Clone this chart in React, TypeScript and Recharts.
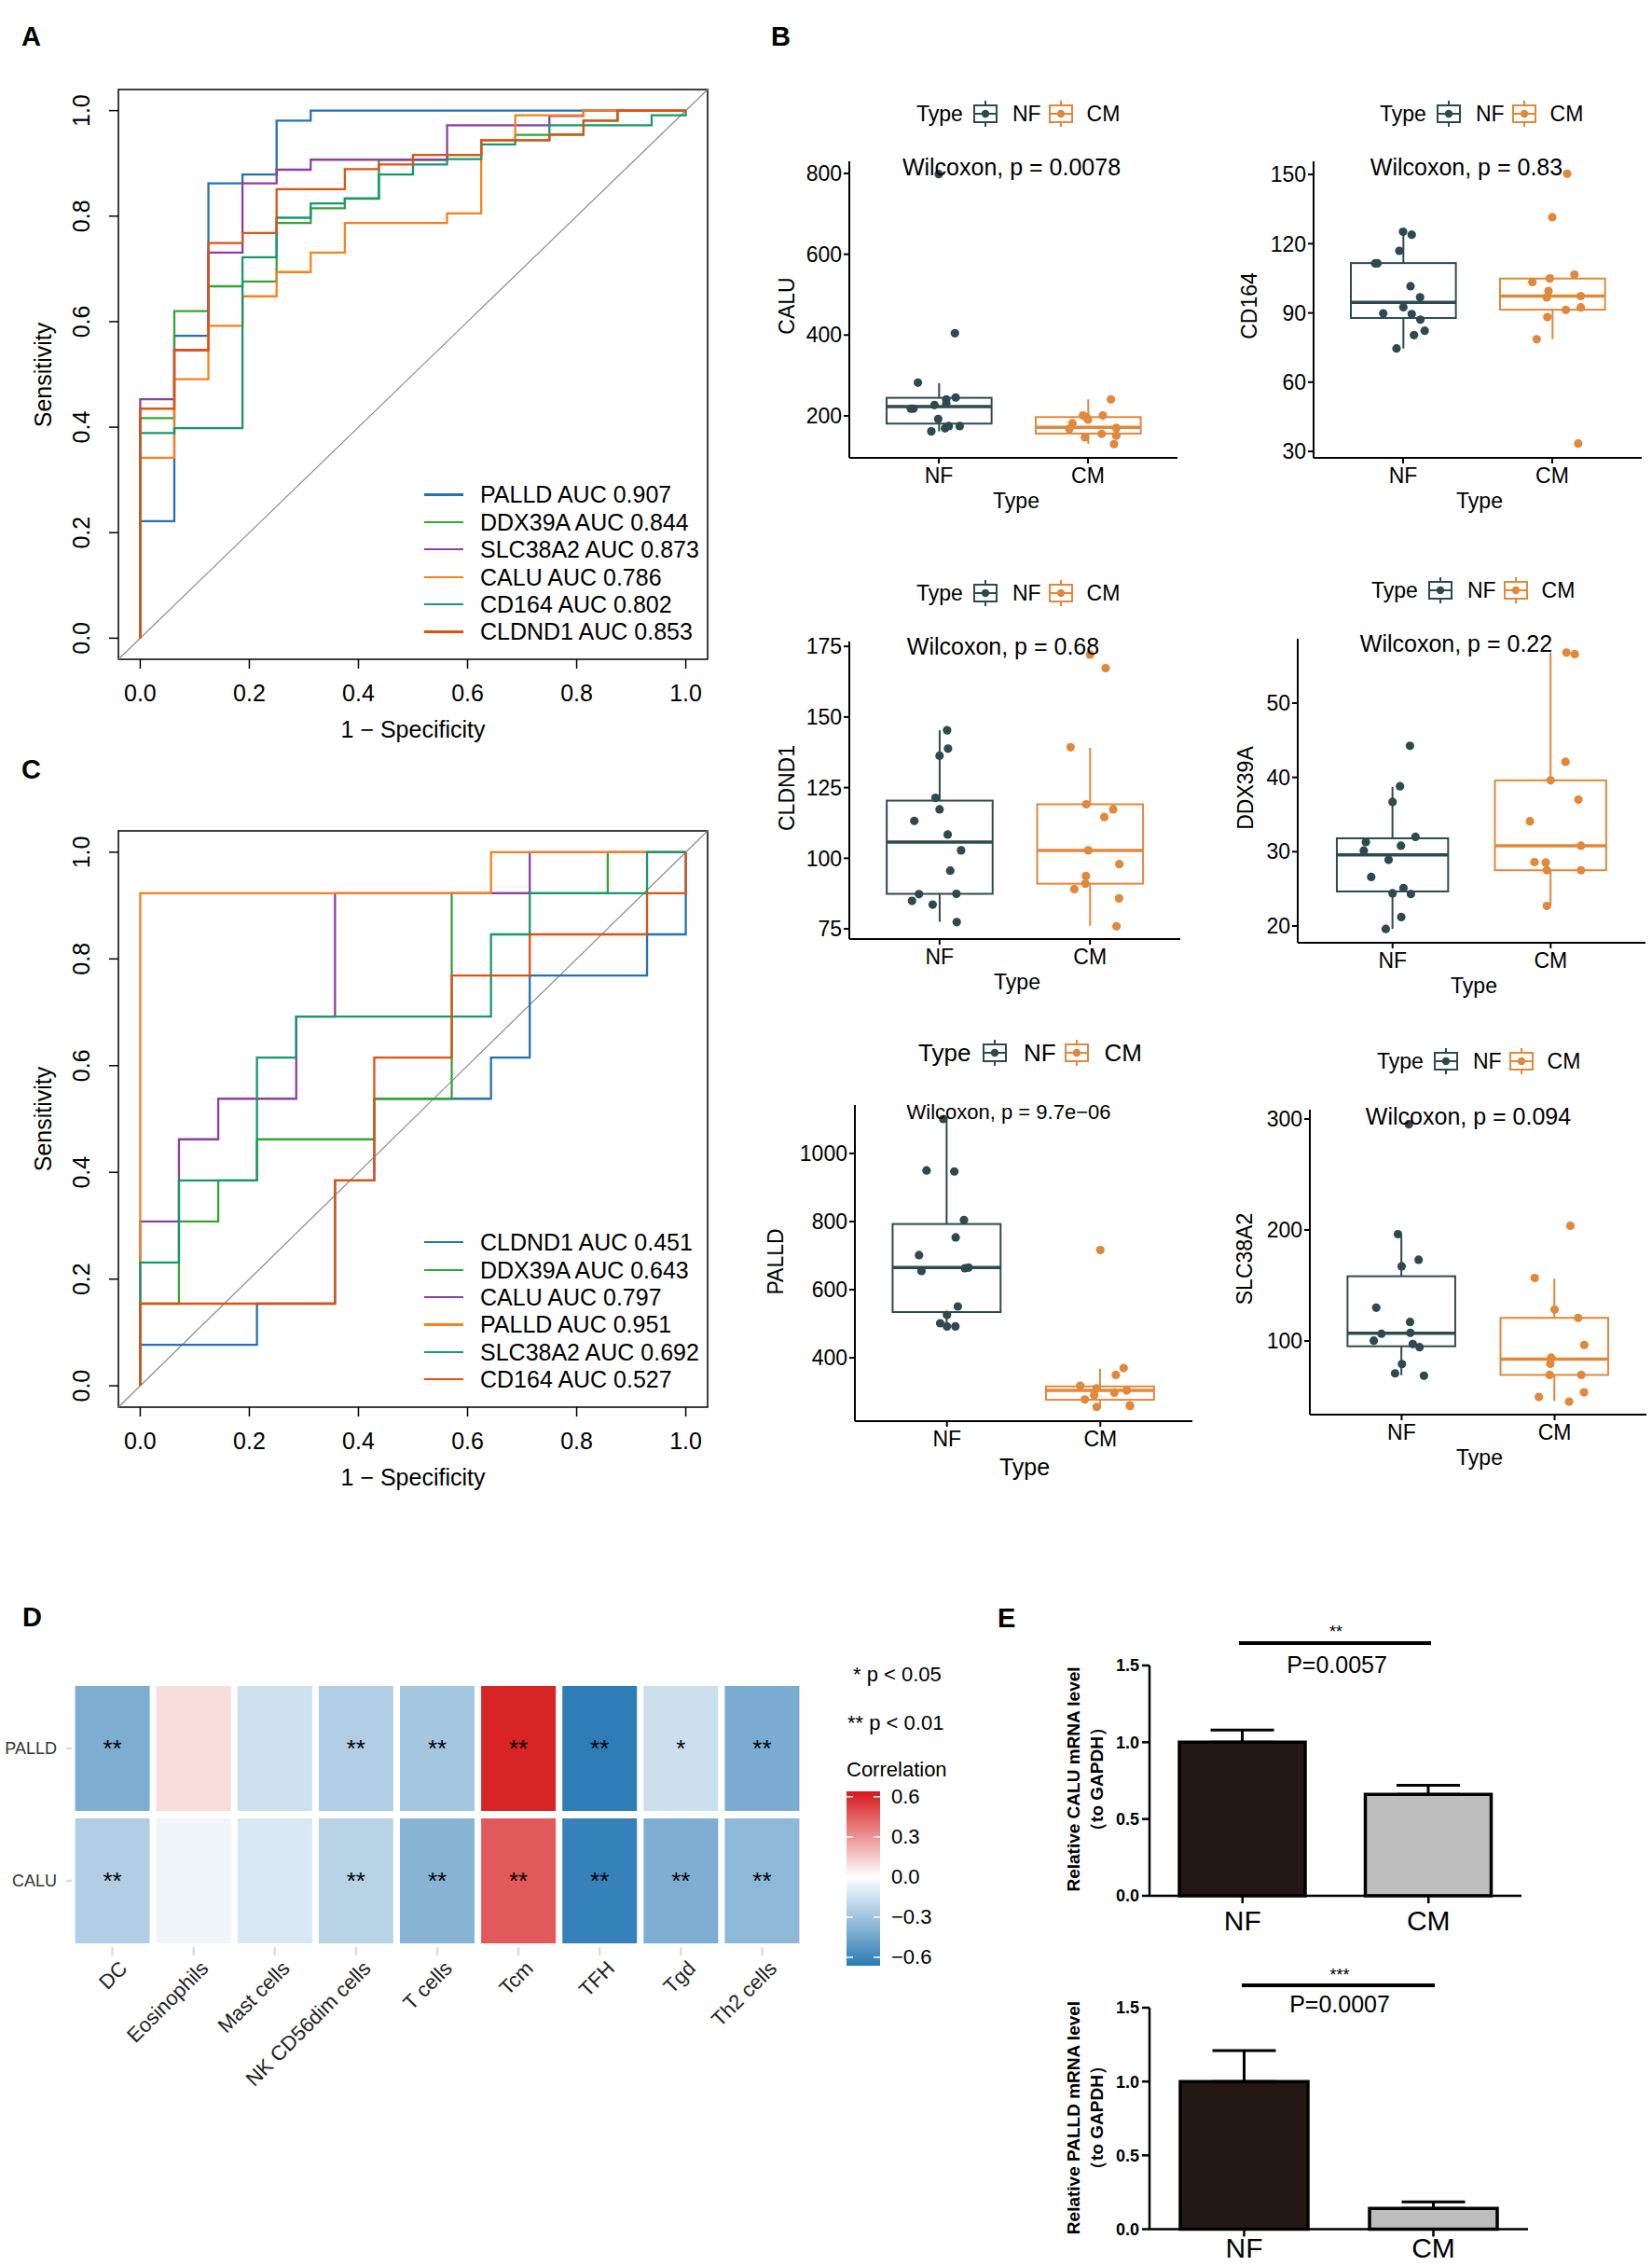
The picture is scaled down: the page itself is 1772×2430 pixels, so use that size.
import React from 'react';
import {
  LineChart, Line, XAxis, YAxis, ReferenceLine, ReferenceArea,
  ComposedChart, Bar, Scatter, ScatterChart, BarChart, ErrorBar, Cell,
} from 'recharts';

const FONT = 'Arial, "Liberation Sans", Helvetica, sans-serif';

// ---------------- Panel A : ROC (training) ----------------
const ROC_A_PALLD = [[0, 0], [0, 0.222], [0.0625, 0.573], [0.125, 0.862], [0.1875, 0.879], [0.25, 0.981], [0.3125, 1], [1, 1]];
const ROC_A_DDX39A = [[0, 0], [0, 0.417], [0.0625, 0.62], [0.125, 0.667], [0.1875, 0.676], [0.25, 0.787], [0.3125, 0.815], [0.375, 0.833], [0.4375, 0.907], [0.5625, 0.916], [0.625, 0.944], [0.6875, 0.954], [0.8125, 0.981], [0.875, 1], [1, 1]];
const ROC_A_SLC38A2 = [[0, 0], [0, 0.453], [0.0625, 0.546], [0.125, 0.731], [0.1875, 0.862], [0.25, 0.888], [0.3125, 0.907], [0.5625, 0.972], [0.75, 0.99], [0.8125, 1], [1, 1]];
const ROC_A_CALU = [[0, 0], [0, 0.342], [0.0625, 0.491], [0.125, 0.592], [0.1875, 0.648], [0.25, 0.694], [0.3125, 0.731], [0.375, 0.787], [0.5625, 0.805], [0.625, 0.944], [0.6875, 0.991], [0.8125, 1], [1, 1]];
const ROC_A_CD164 = [[0, 0], [0, 0.389], [0.0625, 0.398], [0.1875, 0.722], [0.25, 0.797], [0.3125, 0.824], [0.375, 0.834], [0.4375, 0.879], [0.5, 0.898], [0.5625, 0.908], [0.625, 0.936], [0.6875, 0.944], [0.75, 0.972], [0.9375, 0.991], [1, 1]];
const ROC_A_CLDND1 = [[0, 0], [0, 0.435], [0.0625, 0.546], [0.125, 0.749], [0.1875, 0.768], [0.25, 0.851], [0.375, 0.889], [0.4375, 0.898], [0.5, 0.916], [0.625, 0.944], [0.75, 0.955], [0.8125, 0.981], [0.875, 1], [1, 1]];
const ROC_A_NAMES = ['PALLD', 'DDX39A', 'SLC38A2', 'CALU', 'CD164', 'CLDND1'];
const ROC_A_AUC = ['0.907', '0.844', '0.873', '0.786', '0.802', '0.853'];

// ---------------- Panel C : ROC (validation) ----------------
const ROC_C_CLDND1 = [[0, 0], [0, 0.077], [0.214, 0.154], [0.357, 0.385], [0.429, 0.538], [0.643, 0.615], [0.714, 0.769], [0.929, 0.846], [1, 0.923], [1, 1]];
const ROC_C_DDX39A = [[0, 0], [0, 0.154], [0.071, 0.308], [0.143, 0.385], [0.214, 0.462], [0.429, 0.538], [0.571, 0.923], [0.857, 1], [1, 1]];
const ROC_C_CALU = [[0, 0], [0, 0.308], [0.071, 0.462], [0.143, 0.538], [0.286, 0.692], [0.357, 0.923], [0.714, 1], [1, 1]];
const ROC_C_PALLD = [[0, 0], [0, 0.923], [0.643, 1], [1, 1]];
const ROC_C_SLC38A2 = [[0, 0], [0, 0.231], [0.071, 0.385], [0.214, 0.615], [0.286, 0.692], [0.643, 0.846], [0.714, 0.923], [0.929, 1], [1, 1]];
const ROC_C_CD164 = [[0, 0], [0, 0.154], [0.357, 0.385], [0.429, 0.615], [0.571, 0.769], [0.714, 0.846], [0.929, 0.923], [1, 1]];
const ROC_C_NAMES = ['CLDND1', 'DDX39A', 'CALU', 'PALLD', 'SLC38A2', 'CD164'];
const ROC_C_AUC = ['0.451', '0.643', '0.797', '0.951', '0.692', '0.527'];

const ROC_COLORS = ['#2471B5', '#35A435', '#8E3FA0', '#F8801F', '#17986E', '#DE5212'];
const ROC_TICKS = [0, 0.2, 0.4, 0.6, 0.8, 1.0];

// ---------------- Panel B : boxplots ([lo, q1, median, q3, hi]; points [jitter, value]) ----------------
const GROUPS = ['NF', 'CM'];
const CALU_NF_BOX = [161.5, 180.8, 223, 244.6, 280.8];
const CALU_CM_BOX = [130.8, 156.2, 171.5, 196.9, 240.8];
const CALU_NF_PTS = [[0, 798.5], [0.108, 404.6], [-0.14, 282.3], [0.113, 245.4], [0.05, 240.8], [0.05, 230.8], [-0.029, 226.9], [-0.1875, 217.7], [-0.17, 217.7], [-0.004, 192.3], [0.14, 174.6], [0.042, 169.2], [0.067, 174.6], [-0.05, 161.5]];
const CALU_CM_PTS = [[0.154, 240.8], [-0.033, 200.8], [-0.008, 196], [0.1, 200.8], [0, 190.8], [-0.104, 181.5], [-0.125, 167.7], [0.19, 170], [-0.02, 146.9], [0.092, 155.4], [0.19, 150.8], [0.175, 130]];

const CD164_NF_BOX = [74.6, 87.8, 94.6, 111.6, 125.2];
const CD164_CM_BOX = [78.6, 91.4, 97.3, 104.9, 106.6];
const CD164_NF_PTS = [[0, 125.2], [0.058, 123.9], [-0.025, 116.9], [-0.172, 111.5], [-0.187, 111.5], [0.05, 101.6], [0.114, 96.8], [0.002, 92.5], [-0.133, 89.8], [0.058, 89.5], [0.116, 87.1], [0.145, 82.3], [0.073, 80.4], [-0.044, 74.6]];
const CD164_CM_PTS = [[0.1, 150.3], [0, 131.5], [0.149, 106.6], [-0.133, 103.4], [-0.017, 104.9], [-0.025, 99.5], [-0.037, 96.7], [0.191, 97.3], [0.091, 91.3], [0.191, 92.4], [-0.033, 88.2], [-0.104, 78.6], [0.174, 33.4]];

const CLDND1_NF_BOX = [77.5, 87.4, 105.7, 120.4, 145.3];
const CLDND1_CM_BOX = [76.1, 91, 102.8, 119.1, 139.1];
const CLDND1_NF_PTS = [[0.05, 145.3], [0.056, 138.8], [0, 136.3], [-0.027, 121.4], [0, 117.3], [-0.168, 113.2], [0.054, 108.4], [0.143, 102.8], [0.071, 95.6], [-0.137, 87.3], [0.112, 87.4], [-0.183, 84.9], [-0.046, 83.6], [0.114, 77.4]];
const CLDND1_CM_PTS = [[0, 172.1], [0.104, 167.3], [-0.129, 139.3], [-0.025, 119.1], [0.154, 117.3], [0.095, 114.6], [-0.012, 102.8], [0.195, 97.9], [-0.027, 93.7], [-0.031, 91], [-0.104, 89.1], [0.193, 85.8], [0.176, 75.9]];

const DDX39A_NF_BOX = [19.6, 24.65, 29.56, 31.8, 38.7];
const DDX39A_CM_BOX = [22.7, 27.5, 30.8, 39.6, 56.8];
const DDX39A_NF_PTS = [[0.11, 44.25], [0.047, 38.8], [0, 36.7], [0.145, 32.0], [-0.169, 31.3], [0.053, 30.8], [-0.182, 30.15], [-0.025, 28.9], [-0.135, 26.6], [0.069, 25.1], [0, 24.4], [0.116, 24.3], [0.055, 21.2], [-0.043, 19.6]];
const DDX39A_CM_PTS = [[0.1, 56.8], [0.153, 56.6], [0.094, 42.1], [0, 39.6], [0.176, 37], [-0.131, 34.1], [0.192, 30.8], [-0.102, 28.6], [-0.031, 28.55], [-0.024, 27.5], [0.192, 27.5], [-0.024, 22.7]];

const PALLD_NF_BOX = [492.2, 534.2, 664.8, 792.7, 1106];
const PALLD_CM_BOX = [253.9, 276.7, 304.1, 316, 368];
const PALLD_NF_PTS = [[-0.024, 1101], [-0.133, 949.8], [0.048, 947], [0.111, 804.6], [0.057, 753.4], [-0.182, 701.4], [-0.166, 654.8], [0.117, 663], [0.141, 664.8], [0.071, 550.7], [0, 526], [-0.044, 501.4], [0, 492.2], [0.055, 492.2]];
const PALLD_CM_PTS = [[0, 716], [0.152, 369.9], [0.101, 349.8], [-0.131, 317.8], [-0.024, 310.5], [0.091, 297.7], [0.172, 304.1], [-0.04, 290.4], [-0.101, 277.6], [-0.024, 255.7], [0.192, 260.3], [0.194, 258.4]];

const SLC38A2_NF_BOX = [69.2, 95.2, 107, 158.3, 194.8];
const SLC38A2_CM_BOX = [45.9, 69.4, 83.7, 120.8, 156.1];
const SLC38A2_NF_PTS = [[0.047, 295.2], [-0.024, 196.2], [0.111, 173.2], [0, 167.3], [-0.166, 130], [0.055, 117.1], [-0.132, 106.5], [0.057, 107.3], [-0.182, 100.3], [0.073, 97.2], [0.117, 94.4], [0.002, 79.2], [-0.043, 70.8], [0.146, 68.6]];
const SLC38A2_CM_PTS = [[0.103, 203.8], [-0.13, 156.7], [0, 128.3], [0.154, 120.8], [0.194, 96.4], [-0.022, 84.9], [-0.028, 79.5], [-0.032, 69.4], [0.174, 69.4], [0.192, 53.7], [-0.103, 49.5], [0.095, 45.3]];

const NF_COLOR = '#2F4A4E';
const CM_COLOR = '#E0883C';

// ---------------- Panel D : correlation heatmap ----------------
const HM_CELLS = ['DC', 'Eosinophils', 'Mast cells', 'NK CD56dim cells', 'T cells', 'Tcm', 'TFH', 'Tgd', 'Th2 cells'];
const HM_GENES = ['PALLD', 'CALU'];
const HM_PALLD = [-0.40, 0.10, -0.15, -0.24, -0.28, 0.62, -0.64, -0.16, -0.41];
const HM_CALU = [-0.24, -0.05, -0.12, -0.22, -0.37, 0.47, -0.62, -0.40, -0.35];
const HM_PALLD_SIG = ['**', '', '', '**', '**', '**', '**', '*', '**'];
const HM_CALU_SIG = ['**', '', '', '**', '**', '**', '**', '**', '**'];
const HM_LEGEND_TICKS = [0.6, 0.3, 0.0, -0.3, -0.6];

// ---------------- Panel E : qPCR bars ----------------
const E_GROUPS = ['NF', 'CM'];
const E_CALU_MEAN = [1.0, 0.66];
const E_CALU_ERR = [0.08, 0.06];
const E_PALLD_MEAN = [1.0, 0.14];
const E_PALLD_ERR = [0.21, 0.045];
const E_FILLS = ['#231815', '#BDBDBD'];
const E_TICKS = [0, 0.5, 1.0, 1.5];

// ---------------- helpers ----------------
function Txt({ x, y, s, size = 23, anchor = 'c', weight = 400, rot = 0, color = '#000' }: any) {
  const tx = anchor === 'l' ? '0' : anchor === 'r' ? '-100%' : '-50%';
  return (
    <div style={{
      position: 'absolute', left: x, top: y, transform: `translate(${tx}, -50%) rotate(${rot}deg)`,
      fontFamily: FONT, fontSize: size, fontWeight: weight, color, lineHeight: 1, whiteSpace: 'nowrap',
    }}>{s}</div>
  );
}

const toPts = (arr: number[][]) => arr.map(([x, y]) => ({ x, y }));

const RocXTick = (p: any) => (
  <text x={p.x} y={p.y} dy={24} textAnchor="middle" dominantBaseline="central" fontSize={25} fill="#000" fontFamily={FONT}>
    {Number(p.payload.value).toFixed(1)}
  </text>
);
const RocYTick = (p: any) => {
  const cx = p.x - 28;
  return (
    <text x={cx} y={p.y} textAnchor="middle" dominantBaseline="central" transform={`rotate(-90 ${cx} ${p.y})`} fontSize={25} fill="#000" fontFamily={FONT}>
      {Number(p.payload.value).toFixed(1)}
    </text>
  );
};

function RocPanel({ y0, y1, series, names, aucs }: any) {
  const x0 = 127, x1 = 759, T = 10, R = 14, B = 100;
  const yOne = y0 + (y1 - y0) * 0.04 / 1.08;
  const yZero = y1 - (y1 - y0) * 0.04 / 1.08;
  const legTop = yZero - 154;
  return (
    <>
      <div style={{ position: 'absolute', left: 0, top: y0 - T }}>
        <LineChart width={x1 + R} height={y1 - y0 + T + B} margin={{ top: T, right: R, left: 0, bottom: 0 }}>
          <XAxis type="number" dataKey="x" domain={[-0.04, 1.04]} ticks={ROC_TICKS} allowDataOverflow height={B}
            axisLine={false} tickSize={10} tickLine={{ stroke: '#000', strokeWidth: 1.5 }} tick={<RocXTick />} interval={0} />
          <YAxis type="number" domain={[-0.04, 1.04]} ticks={ROC_TICKS} allowDataOverflow width={x0}
            axisLine={false} tickSize={10} tickLine={{ stroke: '#000', strokeWidth: 1.5 }} tick={<RocYTick />} interval={0} />
          <ReferenceArea x1={-0.04} x2={1.04} y1={-0.04} y2={1.04} fill="#fff" fillOpacity={0} stroke="#000" strokeWidth={1.5} />
          <ReferenceLine segment={[{ x: -0.04, y: -0.04 }, { x: 1.04, y: 1.04 }]} stroke="#8c8c8c" strokeWidth={1.2} />
          {series.map((s: number[][], i: number) => (
            <Line key={names[i]} data={toPts(s)} dataKey="y" type="stepAfter" stroke={ROC_COLORS[i]} strokeWidth={2.3}
              dot={false} activeDot={false} isAnimationActive={false} />
          ))}
        </LineChart>
      </div>
      {names.map((n: string, i: number) => (
        <React.Fragment key={n}>
          <div style={{ position: 'absolute', left: 455, top: legTop + i * 29.4 - 1, width: 42, height: 2.3, background: ROC_COLORS[i] }} />
          <Txt x={515} y={legTop + i * 29.4} s={`${n} AUC ${aucs[i]}`} size={25} anchor="l" />
        </React.Fragment>
      ))}
      <Txt x={443} y={y1 + 75} s="1 − Specificity" size={25} />
      <Txt x={46} y={(yOne + yZero) / 2} s="Sensitivity" size={25} rot={-90} />
    </>
  );
}

// Box glyph drawn from a range bar [q1, q3] and the entry's stats
function BoxShape(props: any) {
  const { x, y, width, height, payload } = props;
  const [q1, q3] = payload.box;
  const k = height / (q3 - q1);
  const cx = x + width / 2;
  const yMed = y + (q3 - payload.med) * k;
  const yHi = y - (payload.hi - q3) * k;
  const yLo = y + height + (q1 - payload.lo) * k;
  const c = payload.color;
  return (
    <g>
      <line x1={cx} x2={cx} y1={yHi} y2={y} stroke={c} strokeWidth={2} />
      <line x1={cx} x2={cx} y1={y + height} y2={yLo} stroke={c} strokeWidth={2} />
      <rect x={x} y={y} width={width} height={height} fill="#fff" stroke={c} strokeWidth={2} />
      <line x1={x} x2={x + width} y1={yMed} y2={yMed} stroke={c} strokeWidth={3.5} />
    </g>
  );
}

const dotShape = (color: string) => (p: any) => <circle cx={p.cx} cy={p.cy} r={4.6} fill={color} />;

function LegendKey({ color }: any) {
  return (
    <svg width={26} height={30} style={{ display: 'block' }}>
      <line x1={13} x2={13} y1={1} y2={29} stroke={color} strokeWidth={2} />
      <rect x={1} y={6} width={24} height={18} fill="#fff" stroke={color} strokeWidth={2} />
      <line x1={1} x2={25} y1={15} y2={15} stroke={color} strokeWidth={2} />
      <circle cx={13} cy={15} r={4.2} fill={color} />
    </svg>
  );
}

function BoxLegend({ x, y, size }: any) {
  const f = size / 23;
  return (
    <div style={{ position: 'absolute', left: x, top: y, transform: 'translateY(-50%)', display: 'flex', alignItems: 'center', fontFamily: FONT, fontSize: size, lineHeight: 1, whiteSpace: 'nowrap' }}>
      <span>Type</span>
      <span style={{ marginLeft: 11 * f }}><LegendKey color={NF_COLOR} /></span>
      <span style={{ marginLeft: 16 * f }}>NF</span>
      <span style={{ marginLeft: 8 * f }}><LegendKey color={CM_COLOR} /></span>
      <span style={{ marginLeft: 15 * f }}>CM</span>
    </div>
  );
}

function BoxPanel({ c }: any) {
  const { x0, y0, x1, y1 } = c;
  const L = 110, T = 10, R = 6, B = 90;
  const W = x1 - x0;
  const stats = [
    { name: GROUPS[0], color: NF_COLOR, lo: c.nf[0], box: [c.nf[1], c.nf[3]], med: c.nf[2], hi: c.nf[4] },
    { name: GROUPS[1], color: CM_COLOR, lo: c.cm[0], box: [c.cm[1], c.cm[3]], med: c.cm[2], hi: c.cm[4] },
  ];
  const pts = (arr: number[][], k: number) => arr.map(([j, v]) => ({ x: k + j, y: v }));
  const pad = W * 0.04545;
  return (
    <>
      <div style={{ position: 'absolute', left: x0 - L, top: y0 - T }}>
        <ComposedChart width={W + L + R} height={y1 - y0 + T + B} data={stats} margin={{ top: T, right: R, left: 0, bottom: 0 }}>
          <XAxis dataKey="name" type="category" height={B} padding={{ left: pad, right: pad }} interval={0}
            tickSize={6} tickMargin={5} axisLine={{ stroke: '#000', strokeWidth: 2 }} tickLine={{ stroke: '#000', strokeWidth: 2 }}
            tick={{ fontSize: 23, fill: '#000', fontFamily: FONT }} />
          <XAxis xAxisId="j" type="number" dataKey="x" domain={[0.4, 2.6]} hide allowDataOverflow />
          <YAxis type="number" domain={c.domain} ticks={c.ticks} allowDataOverflow width={L} interval={0}
            tickSize={6} tickMargin={2} axisLine={{ stroke: '#000', strokeWidth: 2 }} tickLine={{ stroke: '#000', strokeWidth: 2 }}
            tick={{ fontSize: 23, fill: '#000', fontFamily: FONT }} />
          <Bar dataKey="box" barSize={W * 0.32} shape={BoxShape} isAnimationActive={false} />
          <Scatter xAxisId="j" data={pts(c.nfPts, 1)} dataKey="y" shape={dotShape(NF_COLOR)} isAnimationActive={false} />
          <Scatter xAxisId="j" data={pts(c.cmPts, 2)} dataKey="y" shape={dotShape(CM_COLOR)} isAnimationActive={false} />
        </ComposedChart>
      </div>
      <BoxLegend x={c.leg[0]} y={c.leg[1]} size={c.leg[2]} />
      <Txt x={c.wil[0]} y={c.wil[1]} s={`Wilcoxon, p = ${c.p}`} size={c.wil[2]} />
      <Txt x={c.yl[0]} y={c.yl[1]} s={c.gene} size={23} rot={-90} />
      <Txt x={c.xt[0]} y={c.xt[1]} s="Type" size={c.xt[2]} />
    </>
  );
}

const B_PANELS = [
  { gene: 'CALU', nf: CALU_NF_BOX, cm: CALU_CM_BOX, nfPts: CALU_NF_PTS, cmPts: CALU_CM_PTS, p: '0.0078',
    domain: [96, 830], ticks: [200, 400, 600, 800], x0: 911, y0: 173, x1: 1263, y1: 491,
    leg: [983, 122, 23], wil: [1085, 179, 25], yl: [844, 328], xt: [1090, 537, 23] },
  { gene: 'CD164', nf: CD164_NF_BOX, cm: CD164_CM_BOX, nfPts: CD164_NF_PTS, cmPts: CD164_CM_PTS, p: '0.83',
    domain: [27.2, 155.7], ticks: [30, 60, 90, 120, 150], x0: 1409, y0: 173, x1: 1761, y1: 491,
    leg: [1480, 122, 23], wil: [1573, 179, 25], yl: [1340, 328], xt: [1587, 537, 23] },
  { gene: 'CLDND1', nf: CLDND1_NF_BOX, cm: CLDND1_CM_BOX, nfPts: CLDND1_NF_PTS, cmPts: CLDND1_CM_PTS, p: '0.68',
    domain: [71.4, 176.7], ticks: [75, 100, 125, 150, 175], x0: 911, y0: 688, x1: 1266, y1: 1007,
    leg: [983, 636, 23], wil: [1076, 693, 25], yl: [844, 845], xt: [1091, 1053, 23] },
  { gene: 'DDX39A', nf: DDX39A_NF_BOX, cm: DDX39A_CM_BOX, nfPts: DDX39A_NF_PTS, cmPts: DDX39A_CM_PTS, p: '0.22',
    domain: [17.74, 58.66], ticks: [20, 30, 40, 50], x0: 1392, y0: 685, x1: 1765, y1: 1011,
    leg: [1471, 633, 23], wil: [1562, 690, 25], yl: [1336, 845], xt: [1581, 1057, 23] },
  { gene: 'PALLD', nf: PALLD_NF_BOX, cm: PALLD_CM_BOX, nfPts: PALLD_NF_PTS, cmPts: PALLD_CM_PTS, p: '9.7e−06',
    domain: [214, 1142], ticks: [400, 600, 800, 1000], x0: 917, y0: 1185, x1: 1279, y1: 1524,
    leg: [985, 1129, 26], wil: [1082, 1193, 22], yl: [832, 1353], xt: [1099, 1573, 25] },
  { gene: 'SLC38A2', nf: SLC38A2_NF_BOX, cm: SLC38A2_CM_BOX, nfPts: SLC38A2_NF_PTS, cmPts: SLC38A2_CM_PTS, p: '0.094',
    domain: [33.6, 308.4], ticks: [100, 200, 300], x0: 1405, y0: 1190, x1: 1766, y1: 1517,
    leg: [1477, 1138, 23], wil: [1575, 1197, 25], yl: [1335, 1350], xt: [1587, 1563, 23] },
];

// ---------------- heatmap ----------------
const LOW = [44, 123, 182];
const HIGH = [215, 25, 28];
function corrColor(v: number) {
  const t = Math.min(1, Math.abs(v) / 0.65);
  const end = v < 0 ? LOW : HIGH;
  const ch = end.map((e) => Math.round(255 + (e - 255) * t));
  return `rgb(${ch[0]},${ch[1]},${ch[2]})`;
}

const Tile = (p: any) => {
  const { cx, cy, payload } = p;
  return (
    <g>
      <rect x={cx - 40} y={cy - 67} width={80} height={134} fill={corrColor(payload.v)} />
      {payload.sig ? (
        <text x={cx} y={cy} textAnchor="middle" dominantBaseline="central" fontSize={26} fill="#000" fontFamily={FONT}>{payload.sig}</text>
      ) : null}
    </g>
  );
};

const HmXTick = (p: any) => {
  const ax = p.x + 6;
  const ay = p.y + 2;
  return (
    <text x={ax} y={ay} dy="0.72em" textAnchor="end" transform={`rotate(-45 ${ax} ${ay})`} fontSize={22} fill="#222" fontFamily={FONT}>
      {HM_CELLS[p.payload.value - 1]}
    </text>
  );
};

function Heatmap() {
  const cells: any[] = [];
  HM_CELLS.forEach((name, i) => {
    cells.push({ xi: i + 1, yi: 2, v: HM_PALLD[i], sig: HM_PALLD_SIG[i] });
    cells.push({ xi: i + 1, yi: 1, v: HM_CALU[i], sig: HM_CALU_SIG[i] });
  });
  const gray = { stroke: '#dcdcdc', strokeWidth: 2.5 };
  const x0 = 77, y0 = 1804, x1 = 861, y1 = 2088;
  const TA = 12, BA = 170, RA = 14;
  return (
    <div style={{ position: 'absolute', left: 0, top: y0 - TA }}>
      <ScatterChart width={x1 + RA} height={y1 - y0 + TA + BA} margin={{ top: 0, right: 0, left: 0, bottom: 0 }}>
        <XAxis xAxisId="top" orientation="top" type="number" dataKey="xi" domain={[0.5, 9.5]} ticks={[1, 2, 3, 4, 5, 6, 7, 8, 9]}
          height={TA} axisLine={false} tickLine={gray} tickSize={9} tick={false} interval={0} />
        <XAxis type="number" dataKey="xi" domain={[0.5, 9.5]} ticks={[1, 2, 3, 4, 5, 6, 7, 8, 9]} height={BA}
          axisLine={false} tickLine={gray} tickSize={9} tick={<HmXTick />} interval={0} />
        <YAxis type="number" dataKey="yi" domain={[0.5, 2.5]} ticks={[1, 2]} width={x0} axisLine={false} tickLine={gray}
          tickSize={6} tickMargin={10} interval={0} tickFormatter={(v: number) => HM_GENES[2 - v]}
          tick={{ fontSize: 18, fill: '#333', fontFamily: FONT }} />
        <YAxis yAxisId="r" orientation="right" type="number" domain={[0.5, 2.5]} ticks={[1, 2]} width={RA}
          axisLine={false} tickLine={gray} tickSize={6} tick={false} interval={0} />
        <Scatter data={cells} shape={Tile} isAnimationActive={false} />
      </ScatterChart>
    </div>
  );
}

function HeatLegend() {
  const top = 1921, bot = 2108, x = 908, w = 36;
  const vTop = 0.64, vBot = -0.663;
  const yOf = (v: number) => top + ((vTop - v) / (vTop - vBot)) * (bot - top);
  const zero = ((vTop - 0) / (vTop - vBot)) * 100;
  return (
    <>
      <Txt x={915} y={1796} s="* p < 0.05" size={22} anchor="l" />
      <Txt x={909} y={1848} s="** p < 0.01" size={22} anchor="l" />
      <Txt x={908} y={1898} s="Correlation" size={22} anchor="l" />
      <svg style={{ position: 'absolute', left: x, top }} width={w} height={bot - top}>
        <defs>
          <linearGradient id="corrGrad" x1="0" y1="0" x2="0" y2="1">
            <stop offset="0%" stopColor="rgb(215,25,28)" />
            <stop offset={`${zero}%`} stopColor="#ffffff" />
            <stop offset="100%" stopColor="rgb(44,123,182)" />
          </linearGradient>
        </defs>
        <rect x={0} y={0} width={w} height={bot - top} fill="url(#corrGrad)" />
        {HM_LEGEND_TICKS.map((v) => (
          <g key={v}>
            <line x1={0} x2={7} y1={yOf(v) - top} y2={yOf(v) - top} stroke="#fff" strokeWidth={1.5} />
            <line x1={w - 7} x2={w} y1={yOf(v) - top} y2={yOf(v) - top} stroke="#fff" strokeWidth={1.5} />
          </g>
        ))}
      </svg>
      {HM_LEGEND_TICKS.map((v) => (
        <Txt key={v} x={956} y={yOf(v)} s={v < 0 ? `−${Math.abs(v).toFixed(1)}` : v.toFixed(1)} size={22} anchor="l" />
      ))}
    </>
  );
}

// ---------------- Panel E ----------------
function EPanel({ x0, y0, x1, y1, mean, err, barSize, labelGap }: any) {
  const L = 70, T = 10, R = 12, B = 80;
  const data = E_GROUPS.map((g, i) => ({ name: g, v: mean[i], e: [0, err[i]] }));
  return (
    <div style={{ position: 'absolute', left: x0 - L, top: y0 - T }}>
      <BarChart width={x1 - x0 + L + R} height={y1 - y0 + T + B} data={data} margin={{ top: T, right: R, left: 0, bottom: 0 }}>
        <XAxis dataKey="name" height={B} tickSize={8} tickMargin={labelGap} interval={0}
          axisLine={{ stroke: '#000', strokeWidth: 2.5 }} tickLine={{ stroke: '#000', strokeWidth: 2.5 }}
          tick={{ fontSize: 30, fill: '#000', fontFamily: FONT }} />
        <YAxis type="number" domain={[0, 1.5]} ticks={E_TICKS} width={L} tickSize={8} tickMargin={3} interval={0}
          axisLine={{ stroke: '#000', strokeWidth: 2.5 }} tickLine={{ stroke: '#000', strokeWidth: 2.5 }}
          tickFormatter={(v: number) => v.toFixed(1)}
          tick={{ fontSize: 18, fontWeight: 700, fill: '#000', fontFamily: FONT }} />
        <Bar dataKey="v" barSize={barSize} stroke="#000" strokeWidth={3.5} isAnimationActive={false}>
          {data.map((d, i) => <Cell key={d.name} fill={E_FILLS[i]} />)}
          <ErrorBar dataKey="e" direction="y" width={34} strokeWidth={3} stroke="#000" />
        </Bar>
      </BarChart>
    </div>
  );
}

export default function App() {
  return (
    <div style={{ position: 'absolute', left: 0, top: 0, width: 1772, height: 2430, background: '#fff', overflow: 'hidden', fontFamily: FONT }}>
      {/* panel letters */}
      <Txt x={23} y={39} s="A" size={29} weight={700} anchor="l" />
      <Txt x={827} y={39} s="B" size={29} weight={700} anchor="l" />
      <Txt x={23} y={825} s="C" size={29} weight={700} anchor="l" />
      <Txt x={24} y={1734} s="D" size={29} weight={700} anchor="l" />
      <Txt x={1070} y={1735} s="E" size={29} weight={700} anchor="l" />

      <RocPanel y0={96} y1={707} names={ROC_A_NAMES} aucs={ROC_A_AUC}
        series={[ROC_A_PALLD, ROC_A_DDX39A, ROC_A_SLC38A2, ROC_A_CALU, ROC_A_CD164, ROC_A_CLDND1]} />
      <RocPanel y0={891} y1={1509} names={ROC_C_NAMES} aucs={ROC_C_AUC}
        series={[ROC_C_CLDND1, ROC_C_DDX39A, ROC_C_CALU, ROC_C_PALLD, ROC_C_SLC38A2, ROC_C_CD164]} />

      {B_PANELS.map((c) => <BoxPanel key={c.gene} c={c} />)}

      <Heatmap />
      <HeatLegend />

      <EPanel x0={1233} y0={1786} x1={1632} y1={2033} mean={E_CALU_MEAN} err={E_CALU_ERR} barSize={135} labelGap={8} />
      <EPanel x0={1233} y0={2152.5} x1={1639} y1={2390} mean={E_PALLD_MEAN} err={E_PALLD_ERR} barSize={137} labelGap={1} />
      <Txt x={1151} y={1908} s="Relative CALU mRNA level" size={19} weight={700} rot={-90} />
      <Txt x={1176} y={1908} s="（to GAPDH）" size={19} weight={700} rot={-90} />
      <Txt x={1151} y={2271} s="Relative PALLD mRNA level" size={19} weight={700} rot={-90} />
      <Txt x={1176} y={2271} s="（to GAPDH）" size={19} weight={700} rot={-90} />
      <Txt x={1433} y={1750} s="**" size={18} />
      <div style={{ position: 'absolute', left: 1329, top: 1760, width: 206, height: 4, background: '#000' }} />
      <Txt x={1434} y={1785} s="P=0.0057" size={25} />
      <Txt x={1437} y={2118} s="***" size={18} />
      <div style={{ position: 'absolute', left: 1332, top: 2127, width: 207, height: 4, background: '#000' }} />
      <Txt x={1437} y={2149} s="P=0.0007" size={25} />
    </div>
  );
}
